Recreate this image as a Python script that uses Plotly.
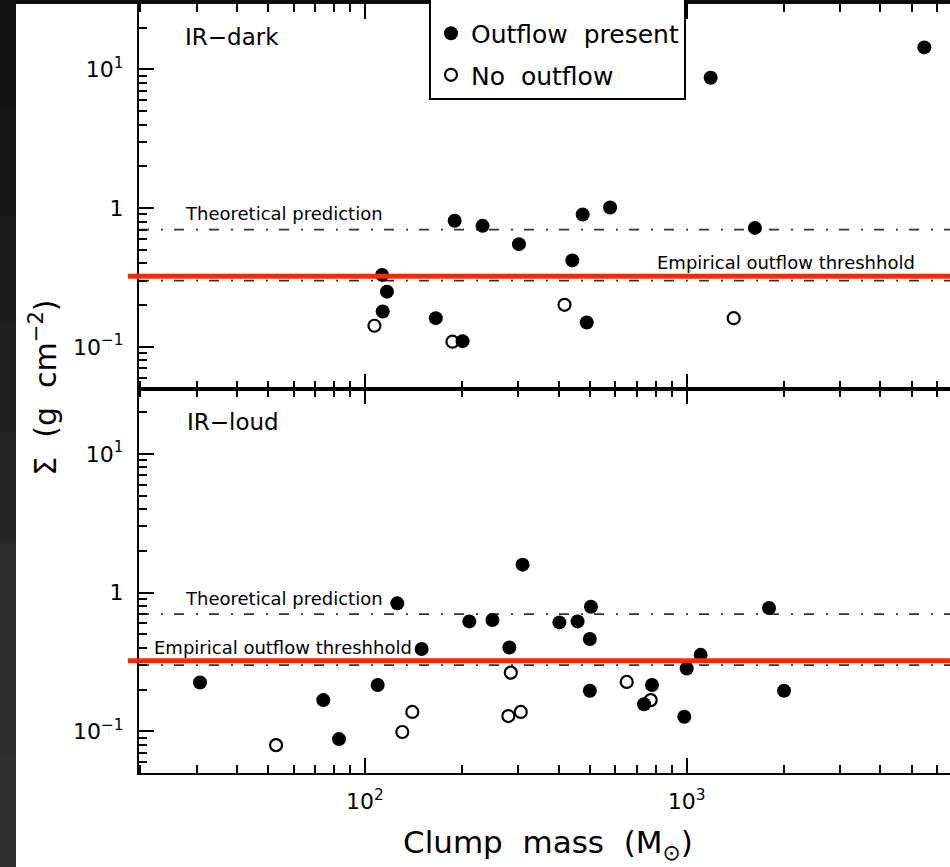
import plotly.graph_objects as go

# ---------------- data ----------------
# IR-dark clumps (top panel)
dark_outflow_mass = [190, 232, 301, 475, 578, 441, 113, 117, 113.5, 166, 201, 489, 1187, 5480, 1630]
dark_outflow_sigma = [0.81, 0.745, 0.55, 0.90, 1.01, 0.42, 0.33, 0.25, 0.18, 0.161, 0.11, 0.15, 8.7, 14.4, 0.72]
dark_nooutflow_mass = [107, 187, 417, 1400]
dark_nooutflow_sigma = [0.142, 0.109, 0.201, 0.161]

# IR-loud clumps (bottom panel)
loud_outflow_mass = [126, 150, 30.7, 74.2, 109.5, 83, 309, 211, 249, 504, 402, 458, 500, 281,
                     500, 780, 737, 1000, 1105, 983, 1803, 2007]
loud_outflow_sigma = [0.837, 0.392, 0.225, 0.168, 0.216, 0.088, 1.59, 0.62, 0.635, 0.79, 0.61, 0.62,
                      0.463, 0.402, 0.196, 0.216, 0.157, 0.284, 0.356, 0.1275, 0.775, 0.196]
loud_nooutflow_mass = [52.9, 140.3, 130.6, 284, 279, 305, 651, 773]
loud_nooutflow_sigma = [0.0796, 0.138, 0.099, 0.265, 0.129, 0.138, 0.227, 0.168]

theoretical_sigma = 0.7
empirical_sigma = 0.3
highlight_sigma = 0.323

x_tickvals = [100, 1000]
x_ticktext = ["10<sup>2</sup>", "10<sup>3</sup>"]
y_tickvals = [0.1, 1, 10]
y_ticktext = ["10<sup>\u22121</sup>", "1", "10<sup>1</sup>"]

legend_names = ["Outflow\u00a0 present", "No\u00a0 outflow"]
panel_names = ["IR\u2212dark", "IR\u2212loud"]
label_theory = "Theoretical prediction"
label_empirical = "Empirical outflow threshhold"
x_title = "Clump\u00a0 mass\u00a0 (M<sub>\u2299</sub>)"
y_title = "\u03a3\u00a0 (g\u00a0 cm<sup>\u22122</sup>)"

# ---------------- layout geometry ----------------
W, H = 950, 867
L, R, T, B = 139, 0, 4, 93.5
PW = W - L - R
PH = H - T - B
FONT = "DejaVu Sans"


def px(xp):
    return (xp - L) / PW


def py(yp):
    return (H - B - yp) / PH


x_minor = [m * 10 ** e for e in (1, 2, 3) for m in range(2, 10)]
y_minor = [m * 10 ** e for e in (-2, -1, 0, 1) for m in range(2, 10)]

fig = go.Figure()

filled = dict(symbol="circle", size=14, color="black", line=dict(width=0))
opened = dict(symbol="circle-open", size=12, color="black", line=dict(width=2.2, color="black"))

fig.add_trace(go.Scatter(x=dark_outflow_mass, y=dark_outflow_sigma, mode="markers", marker=filled,
                         name=legend_names[0], legendgroup="a", xaxis="x", yaxis="y"))
fig.add_trace(go.Scatter(x=dark_nooutflow_mass, y=dark_nooutflow_sigma, mode="markers", marker=opened,
                         name=legend_names[1], legendgroup="b", xaxis="x", yaxis="y"))
fig.add_trace(go.Scatter(x=loud_outflow_mass, y=loud_outflow_sigma, mode="markers", marker=filled,
                         name=legend_names[0], legendgroup="a", showlegend=False, xaxis="x2", yaxis="y2"))
fig.add_trace(go.Scatter(x=loud_nooutflow_mass, y=loud_nooutflow_sigma, mode="markers", marker=opened,
                         name=legend_names[1], legendgroup="b", showlegend=False, xaxis="x2", yaxis="y2"))

dash = "10px,12px,2px,11px"
shapes = []
for yref in ("y", "y2"):
    shapes.append(dict(type="line", xref="x domain", x0=0, x1=1, yref=yref,
                       y0=theoretical_sigma, y1=theoretical_sigma, layer="below",
                       line=dict(color="#333333", width=1.6, dash=dash)))
    shapes.append(dict(type="line", xref="x domain", x0=0, x1=1, yref=yref,
                       y0=empirical_sigma, y1=empirical_sigma, layer="below",
                       line=dict(color="#333333", width=1.6, dash=dash)))
    shapes.append(dict(type="line", xref="paper", x0=px(128), x1=1, yref=yref,
                       y0=highlight_sigma, y1=highlight_sigma, layer="above",
                       line=dict(color="#ff2a00", width=5)))

# dark surroundings of the cropped picture
shapes.append(dict(type="rect", xref="paper", yref="paper", x0=px(0), x1=1.01, y0=1, y1=py(-1),
                   fillcolor="#0c0c0c", line=dict(width=0), layer="above"))
bands = ["#121212", "#161616", "#1b1b1b", "#202020", "#252525", "#2a2a2a", "#2e2e2e", "#323232"]
nb = len(bands)
for i, c in enumerate(bands):
    shapes.append(dict(type="rect", xref="paper", yref="paper", x0=px(-1), x1=px(16),
                       y0=py(H * (i + 1) / nb + 1), y1=py(H * i / nb - 1),
                       fillcolor=c, line=dict(width=0), layer="above"))

ann_font = dict(family=FONT, size=18, color="black")
annotations = [
    dict(text=panel_names[0], xref="paper", yref="paper", x=px(183), y=py(37), xanchor="left",
         yanchor="middle", showarrow=False, font=dict(family=FONT, size=23, color="black")),
    dict(text=panel_names[1], xref="paper", yref="paper", x=px(185), y=py(422), xanchor="left",
         yanchor="middle", showarrow=False, font=dict(family=FONT, size=23, color="black")),
    dict(text=label_theory, xref="paper", yref="paper", x=px(183), y=py(214), xanchor="left",
         yanchor="middle", showarrow=False, font=ann_font),
    dict(text=label_empirical, xref="paper", yref="paper", x=px(655), y=py(263), xanchor="left",
         yanchor="middle", showarrow=False, font=ann_font),
    dict(text=label_theory, xref="paper", yref="paper", x=px(183), y=py(599), xanchor="left",
         yanchor="middle", showarrow=False, font=ann_font),
    dict(text=label_empirical, xref="paper", yref="paper", x=px(152), y=py(648), xanchor="left",
         yanchor="middle", showarrow=False, font=ann_font),
    dict(text=x_title, xref="paper", yref="paper", x=px(548), y=py(845), xanchor="center",
         yanchor="middle", showarrow=False, font=dict(family=FONT, size=31, color="black")),
    dict(text=y_title, xref="paper", yref="paper", x=px(44), y=py(388), xanchor="center",
         yanchor="middle", textangle=-90, showarrow=False,
         font=dict(family=FONT, size=30, color="black")),
]

common = dict(type="log", showline=True, linecolor="black", linewidth=2, ticks="inside",
              tickcolor="black", tickwidth=2, ticklen=15, showgrid=False, zeroline=False,
              tickfont=dict(family=FONT, size=22, color="black"))
xminor = dict(ticks="inside", ticklen=8, tickwidth=2, tickcolor="black", tickvals=x_minor, showgrid=False)
yminor = dict(ticks="inside", ticklen=8, tickwidth=2, tickcolor="black", tickvals=y_minor, showgrid=False)
xr = [1.2975, 3.8185]
yr = [-1.30, 1.471]

fig.update_layout(
    width=W, height=H,
    margin=dict(l=L, r=R, t=T, b=B, autoexpand=False),
    paper_bgcolor="white", plot_bgcolor="white",
    xaxis=dict(common, domain=[0, 1], anchor="y", range=xr, tickvals=x_tickvals,
               showticklabels=False, mirror="ticks", minor=xminor),
    xaxis2=dict(common, domain=[0, 1], anchor="y2", range=xr, tickvals=x_tickvals, ticktext=x_ticktext,
                mirror="ticks", minor=xminor, ticklabelstandoff=8),
    yaxis=dict(common, domain=[0.5, 1], anchor="x", range=yr, tickvals=y_tickvals, ticktext=y_ticktext,
               minor=yminor, ticklabelstandoff=9),
    yaxis2=dict(common, domain=[0, 0.5], anchor="x2", range=yr, tickvals=y_tickvals, ticktext=y_ticktext,
                minor=yminor, ticklabelstandoff=9),
    showlegend=True,
    legend=dict(x=px(429), xanchor="left", y=py(100), yanchor="bottom", bgcolor="white",
                bordercolor="black", borderwidth=2, tracegroupgap=6, itemsizing="trace",
                font=dict(family=FONT, size=25, color="black"),
                title=dict(text=" ", font=dict(size=22))),
    shapes=shapes,
    annotations=annotations,
)

fig.write_html("out.html", config={"displayModeBar": False},
               post_script="document.body.style.margin='0';document.body.style.overflow='hidden';")
